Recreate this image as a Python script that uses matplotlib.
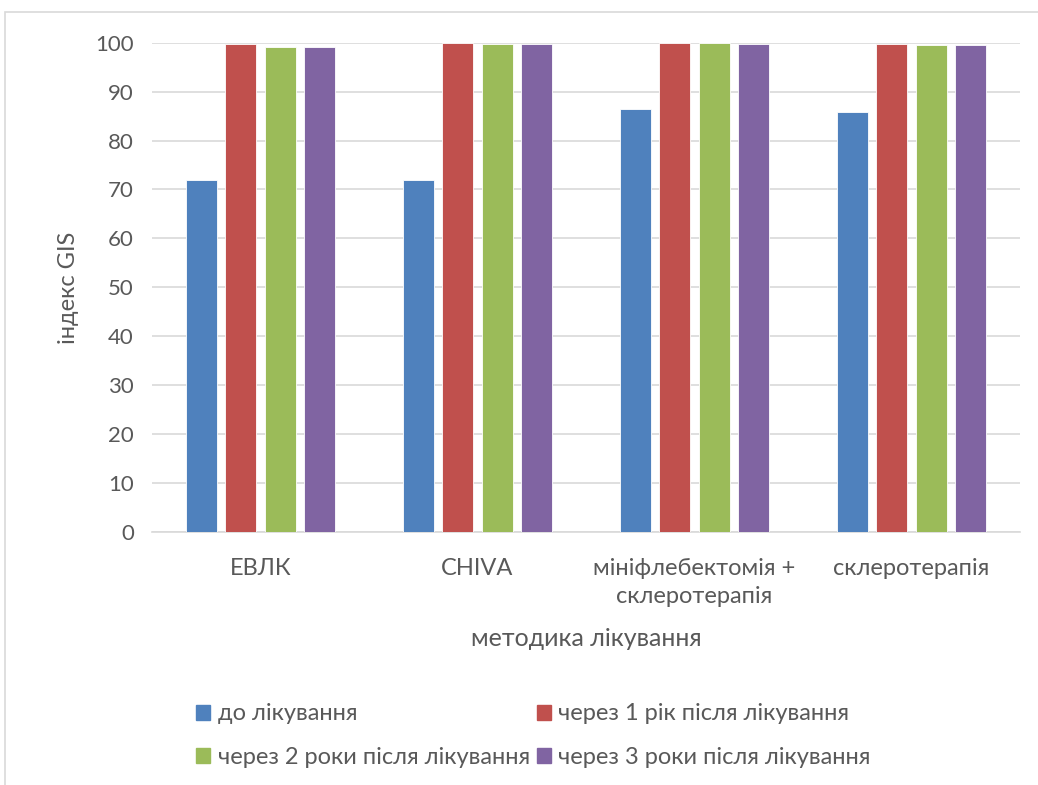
import numpy as np
import matplotlib.pyplot as plt
from matplotlib.patches import Rectangle, Patch

plt.rcParams['font.family'] = ['Lato', 'DejaVu Sans']

categories = ['ЕВЛК', 'CHIVA', 'мініфлебектомія +\nсклеротерапія', 'склеротерапія']
series = ['до лікування', 'через 1 рік після лікування',
          'через 2 роки після лікування', 'через 3 роки після лікування']
before = [71.9, 72.0, 86.4, 85.9]
after_1 = [99.7, 100.0, 100.0, 99.7]
after_2 = [99.2, 99.7, 100.0, 99.5]
after_3 = [99.2, 99.7, 99.7, 99.5]
colors = ['#4F81BD', '#C0504D', '#9BBB59', '#8064A2']

text_c = '#595959'

fig = plt.figure(figsize=(10.38, 7.85), dpi=100)
ax = fig.add_axes([0.1464, 0.3223, 0.8363, 0.6233])

x = np.arange(len(categories))
step = 0.182
width = 0.143
for i, vals in enumerate([before, after_1, after_2, after_3]):
    ax.bar(x + (i - 1.5) * step, vals, width, color=colors[i],
           edgecolor='white', linewidth=0.6, zorder=3, label=series[i])

ax.set_xlim(-0.5, len(categories) - 0.5)
ax.set_ylim(0, 100)
ax.set_yticks(np.arange(0, 101, 10))
ax.set_xticks(x)
ax.set_xticklabels(categories, fontsize=17, color=text_c, linespacing=1.4)
ax.tick_params(axis='y', labelsize=16, labelcolor=text_c, length=0, pad=13)
ax.tick_params(axis='x', length=0, pad=19)
ax.grid(axis='y', color='#d9d9d9', linewidth=1.2, zorder=0)
for s in ['top', 'right', 'left']:
    ax.spines[s].set_visible(False)
ax.spines['bottom'].set_color('#d9d9d9')
ax.spines['bottom'].set_linewidth(1.2)

ax.set_ylabel('індекс GIS', fontsize=17, color=text_c, labelpad=12)
ax.set_xlabel('методика лікування', fontsize=18, color=text_c, labelpad=14)

# legend laid out row by row in two columns
handles = [Patch(color=c) for c in colors]
order = [0, 2, 1, 3]
fig.legend([handles[k] for k in order], [series[k] for k in order],
           loc='upper left', bbox_to_anchor=(0.18, 0.116), ncol=2,
           frameon=False, fontsize=17, labelcolor=text_c,
           handlelength=0.6, handleheight=0.6, handletextpad=0.3,
           columnspacing=0.3, labelspacing=0.95, borderaxespad=0)

# chart-area border
fig.patches.append(Rectangle((5 / 1038, -0.01), 1.1, 1 - 12 / 785 + 0.01,
                             transform=fig.transFigure, fill=False,
                             edgecolor='#d9d9d9', linewidth=1.2))

fig.savefig('out.png', dpi=100)
